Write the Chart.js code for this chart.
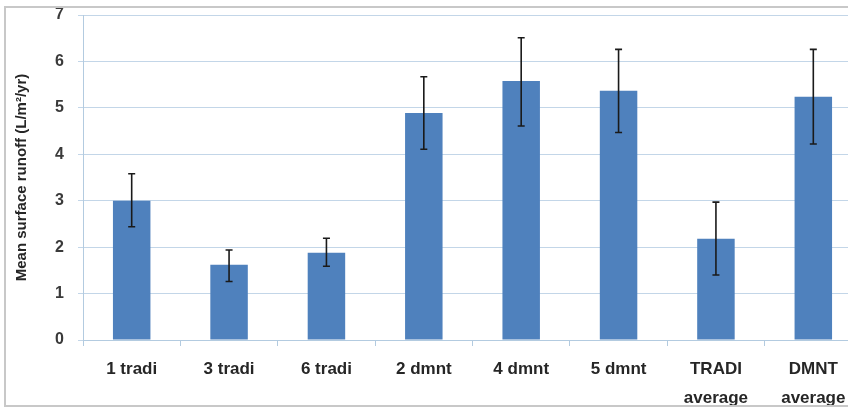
<!DOCTYPE html>
<html><head><meta charset="utf-8">
<script src="https://cdn.jsdelivr.net/npm/chart.js@4"></script>
<style>
html,body{margin:0;padding:0;background:#fff;}
#wrap{position:relative;width:848px;height:408px;overflow:hidden;background:#fff;}
#frame{position:absolute;left:4px;top:6px;width:850px;height:401px;border:2px solid #c8c8c8;box-sizing:border-box;pointer-events:none;}
canvas{position:absolute;left:0;top:0;}
</style></head>
<body>
<div id="wrap"><canvas id="c" width="862" height="408"></canvas><div id="frame"></div></div>
<script>
const categories = [["1 tradi"],["3 tradi"],["6 tradi"],["2 dmnt"],["4 dmnt"],["5 dmnt"],["TRADI","average"],["DMNT","average"]];
const meanRunoff = [3.0, 1.62, 1.88, 4.89, 5.58, 5.37, 2.18, 5.24];
const errUpper   = [3.58, 1.94, 2.19, 5.67, 6.51, 6.26, 2.97, 6.26];
const errLower   = [2.44, 1.26, 1.59, 4.11, 4.61, 4.47, 1.40, 4.22];
const yTicks = [0,1,2,3,4,5,6,7];

const errorBars = {
  id:'errorBars',
  afterDatasetsDraw(chart){
    const ctx = chart.ctx, y = chart.scales.y;
    const meta = chart.getDatasetMeta(0);
    ctx.save();
    ctx.strokeStyle = '#1a1a1a';
    ctx.lineWidth = 1.6;
    meta.data.forEach((bar,i)=>{
      const x = bar.x, yt = y.getPixelForValue(errUpper[i]), yb = y.getPixelForValue(errLower[i]);
      ctx.beginPath();
      ctx.moveTo(x,yt); ctx.lineTo(x,yb);
      ctx.moveTo(x-3.5,yt); ctx.lineTo(x+3.5,yt);
      ctx.moveTo(x-3.5,yb); ctx.lineTo(x+3.5,yb);
      ctx.stroke();
    });
    ctx.restore();
  }
};

new Chart(document.getElementById('c'),{
  type:'bar',
  data:{labels:categories,datasets:[{data:meanRunoff,backgroundColor:'#4f81bd',borderWidth:0,barPercentage:0.385,categoryPercentage:1}]},
  options:{
    responsive:false,animation:false,
    layout:{padding:{top:15,left:0,right:0,bottom:0}},
    plugins:{legend:{display:false},tooltip:{enabled:false}},
    scales:{
      y:{min:0,max:7,
        afterBuildTicks(s){s.ticks=yTicks.map(v=>({value:v}));},
        afterFit(s){s.width=83;s.paddingTop=0;s.paddingBottom=0;},
        grid:{color:'#c3d6e8',lineWidth:1,tickLength:5},
        border:{color:'#b3cbe0'},
        ticks:{color:'#3a3a3a',padding:14,font:{family:'Liberation Sans',size:16,weight:'bold'}},
        title:{display:true,text:'Mean surface runoff (L/m²/yr)',color:'#262626',padding:{top:13,bottom:0},font:{family:'Liberation Sans',size:15,weight:'bold'}}
      },
      x:{
        afterFit(s){s.height=68;s.paddingTop=0;s.paddingBottom=0;},
        grid:{drawOnChartArea:false,color:'#b3cbe0',tickLength:6,offset:true},
        border:{color:'#b3cbe0'},
        ticks:{color:'#262626',padding:9,maxRotation:0,font:{family:'Liberation Sans',size:17,weight:'bold',lineHeight:1.7}}
      }
    }
  },
  plugins:[errorBars]
});
</script>
</body></html>
